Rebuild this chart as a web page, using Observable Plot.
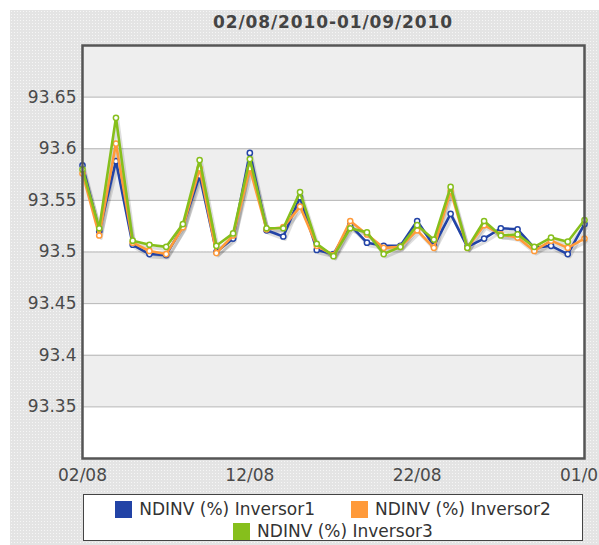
<!DOCTYPE html>
<html>
<head>
<meta charset="utf-8">
<script src="https://cdn.jsdelivr.net/npm/d3@7"></script>
<script src="https://cdn.jsdelivr.net/npm/@observablehq/plot@0.6"></script>
<style>
  html, body { margin: 0; padding: 0; background: #fff; }
  #wrap { position: relative; width: 599px; height: 545px; overflow: hidden; font-family: "DejaVu Sans", Verdana, sans-serif; }
  #bg { position: absolute; left: 10px; top: 10px; width: 589px; height: 535px; background-color: #e4e4e4;
        background-image: radial-gradient(#f6f6f6 0.7px, transparent 0.8px); background-size: 3px 3px; }
  #title { position: absolute; left: 82px; width: 502px; top: 12px; text-align: center; font-weight: bold; font-size: 17px; letter-spacing: 0.9px; color: #444; }
  #chart { position: absolute; left: 0; top: 0; }
  #legend { position: absolute; left: 83px; top: 494px; width: 500px; height: 47px; background: #fff; border: 1px solid #444;
            display: flex; flex-wrap: wrap; justify-content: center; align-content: flex-start; column-gap: 36px; row-gap: 4px; padding-top: 5px; box-sizing: border-box; }
  .item { display: flex; align-items: center; font-size: 17px; color: #333; height: 18px; }
  .sw { width: 17px; height: 17px; margin-right: 7px; }
</style>
</head>
<body>
<div id="wrap">
  <div id="bg"></div>
  <div id="title"></div>
  <div id="chart"></div>
  <div id="legend"></div>
</div>
<script>
const titleText = "02/08/2010-01/09/2010";
const dates = ["2010-08-02","2010-08-03","2010-08-04","2010-08-05","2010-08-06","2010-08-07","2010-08-08","2010-08-09","2010-08-10","2010-08-11","2010-08-12","2010-08-13","2010-08-14","2010-08-15","2010-08-16","2010-08-17","2010-08-18","2010-08-19","2010-08-20","2010-08-21","2010-08-22","2010-08-23","2010-08-24","2010-08-25","2010-08-26","2010-08-27","2010-08-28","2010-08-29","2010-08-30","2010-08-31","2010-09-01"];
const seriesNames = ["NDINV (%) Inversor1", "NDINV (%) Inversor2", "NDINV (%) Inversor3"];
const seriesColors = ["#2243a6", "#ff9a3a", "#86bf1c"];
const inversor1 = [93.584,93.520,93.588,93.507,93.498,93.497,93.525,93.574,93.500,93.513,93.596,93.521,93.515,93.553,93.502,93.498,93.526,93.509,93.506,93.506,93.530,93.506,93.537,93.505,93.513,93.523,93.522,93.504,93.506,93.498,93.527];
const inversor2 = [93.576,93.516,93.605,93.509,93.501,93.498,93.524,93.581,93.499,93.516,93.581,93.522,93.524,93.544,93.506,93.497,93.530,93.517,93.504,93.505,93.521,93.504,93.559,93.504,93.526,93.517,93.514,93.501,93.511,93.504,93.513];
const inversor3 = [93.580,93.523,93.630,93.511,93.507,93.505,93.527,93.589,93.506,93.518,93.590,93.523,93.523,93.558,93.508,93.496,93.523,93.519,93.498,93.505,93.526,93.512,93.563,93.504,93.530,93.516,93.517,93.505,93.514,93.510,93.531];
const yDomain = [93.3, 93.7];
const yTicks = [93.3, 93.35, 93.4, 93.45, 93.5, 93.55, 93.6, 93.65, 93.7];
const xTicks = ["2010-08-02", "2010-08-12", "2010-08-22", "2010-09-01"];

document.getElementById("title").textContent = titleText;

const parse = d3.utcParse("%Y-%m-%d");
const values = [inversor1, inversor2, inversor3];
const data = [];
values.forEach((arr, s) => arr.forEach((v, i) => data.push({date: parse(dates[i]), value: v, series: seriesNames[s]})));

const bands = [];
for (let i = 0; i < yTicks.length - 1; i++) bands.push({y1: yTicks[i], y2: yTicks[i + 1], dotted: i % 2 === 1});
const gridTicks = yTicks.slice(1, -1);

const colorScale = {domain: seriesNames, range: seriesColors};
const marks = [
  Plot.rect(bands, {y1: "y1", y2: "y2", fill: d => d.dotted ? "#eeeeee" : "#ffffff"}),
  Plot.ruleY(gridTicks, {stroke: "#b5b5b5", strokeWidth: 1}),
];
seriesNames.forEach(name => {
  const sd = data.filter(d => d.series === name);
  marks.push(Plot.line(sd, {x: "date", y: "value", stroke: "#000", strokeOpacity: 0.13, strokeWidth: 3, dx: 2, dy: 3}));
});
seriesNames.forEach(name => {
  const sd = data.filter(d => d.series === name);
  marks.push(Plot.line(sd, {x: "date", y: "value", stroke: "series", strokeWidth: 2.6}));
  marks.push(Plot.dot(sd, {x: "date", y: "value", stroke: "series", fill: "#fff", r: 2.6, strokeWidth: 1.5}));
});
marks.push(Plot.frame({stroke: "#555", strokeWidth: 2.5}));

const chart = Plot.plot({
  width: 599,
  height: 490,
  marginLeft: 82,
  marginRight: 15,
  marginTop: 45,
  marginBottom: 32,
  style: {background: "transparent", fontFamily: "'DejaVu Sans', Verdana, sans-serif", fontSize: "17px", color: "#4a4a4a", overflow: "visible"},
  x: {type: "utc", domain: [parse(dates[0]), parse(dates[dates.length - 1])], ticks: xTicks.map(parse), tickFormat: d3.utcFormat("%d/%m"), tickSize: 0, tickPadding: 10, label: null},
  y: {domain: yDomain, ticks: gridTicks, tickFormat: d => `${+d.toFixed(2)}`, tickSize: 0, tickPadding: 6, label: null},
  color: colorScale,
  marks
});
document.getElementById("chart").appendChild(chart);

const legend = document.getElementById("legend");
seriesNames.forEach((name, i) => {
  const it = document.createElement("div");
  it.className = "item";
  const sw = document.createElement("span");
  sw.className = "sw";
  sw.style.background = seriesColors[i];
  const tx = document.createElement("span");
  tx.textContent = name;
  it.appendChild(sw); it.appendChild(tx);
  legend.appendChild(it);
});
</script>
</body>
</html>
